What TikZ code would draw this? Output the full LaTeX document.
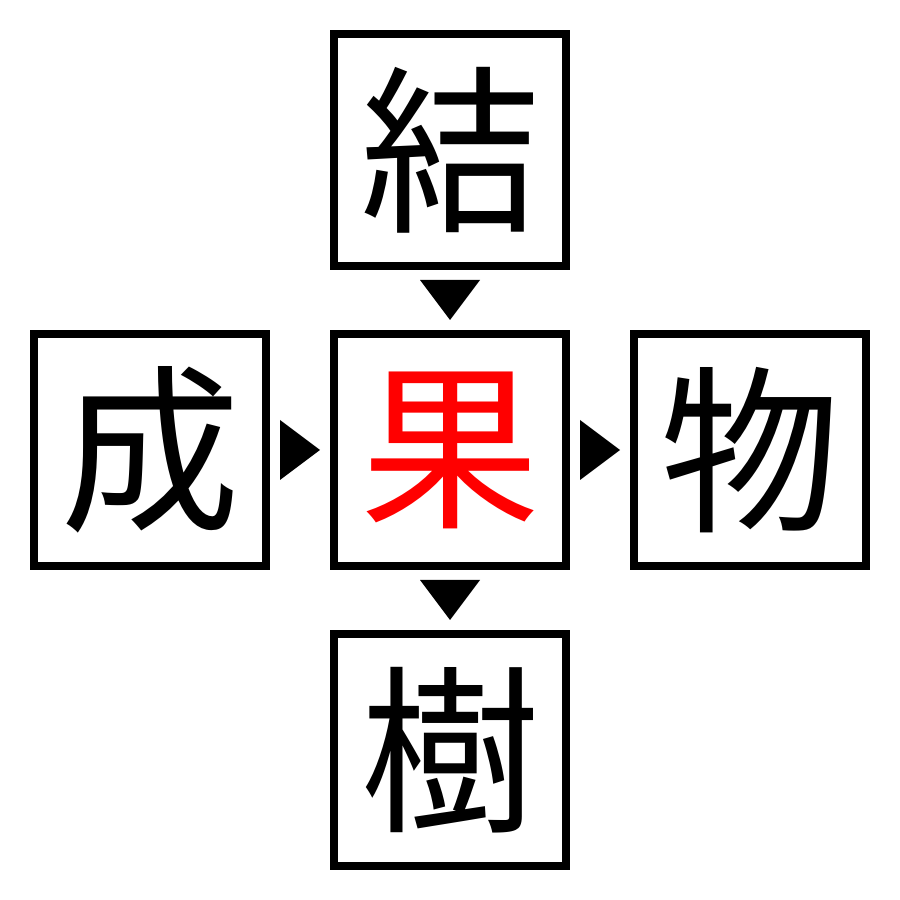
\documentclass[tikz,border=0pt]{standalone}
\usepackage{fontspec}
\usetikzlibrary{calc}
\newfontfamily\cjk{Noto Sans CJK JP}
\begin{document}
\begin{tikzpicture}[x=1pt,y=1pt,
  kbox/.style={draw=black,line width=8pt,minimum size=232pt,inner sep=0pt,font=\cjk\fontsize{180}{180}\selectfont},
  tri/.style={fill=black}]
\useasboundingbox (0,0) rectangle (900,900);
\node[kbox] (top) at (450,750) {結};
\node[kbox,text=red] (mid) at (450,450) {果};
\node[kbox] (left) at (150,450) {成};
\node[kbox] (right) at (750,450) {物};
\node[kbox] (bot) at (450,150) {樹};
\coordinate (a1) at ($(top.south)!0.5!(mid.north)$);
\coordinate (a2) at ($(mid.south)!0.5!(bot.north)$);
\coordinate (a3) at ($(left.east)!0.5!(mid.west)$);
\coordinate (a4) at ($(mid.east)!0.5!(right.west)$);
\fill[tri] ([shift={(-30,20)}]a1) -- ([shift={(30,20)}]a1) -- ([shift={(0,-20)}]a1) -- cycle;
\fill[tri] ([shift={(-30,20)}]a2) -- ([shift={(30,20)}]a2) -- ([shift={(0,-20)}]a2) -- cycle;
\fill[tri] ([shift={(-20,30)}]a3) -- ([shift={(-20,-30)}]a3) -- ([shift={(20,0)}]a3) -- cycle;
\fill[tri] ([shift={(-20,30)}]a4) -- ([shift={(-20,-30)}]a4) -- ([shift={(20,0)}]a4) -- cycle;
\end{tikzpicture}
\end{document}
